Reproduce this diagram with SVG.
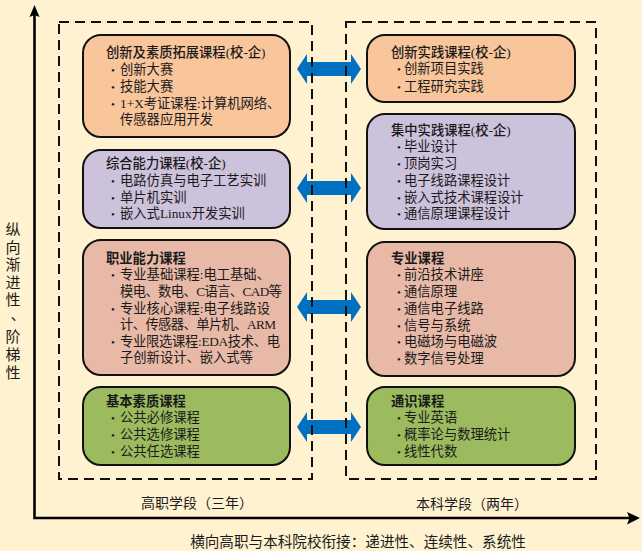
<svg xmlns="http://www.w3.org/2000/svg" width="642" height="551" viewBox="0 0 642 551">
<defs>
<style>
text{font-family:"Liberation Serif","Noto Sans CJK SC",sans-serif;fill:#1a1a1a}
.t{font-size:13.3px;font-weight:700}
.m{font-weight:500}
.b{font-size:13.3px}
.d{font-size:11px}
.lab{font-size:14px}
.vt{font-size:15px}
.tight{letter-spacing:-0.6px}
.node{stroke:#111;stroke-width:2}
.dash{fill:none;stroke:#111;stroke-width:2;stroke-dasharray:10 6}
.axis{fill:none;stroke:#000;stroke-width:2.6}
.arr{fill:#0070C0}
</style>
</defs>
<rect x="0" y="0" width="642" height="551" fill="#FFF2D1"/>

<g id="axes">
<path class="axis" d="M34.5,14 V518 H630"/>
<polygon points="34.5,5 39.5,17 34.5,15 29.5,17" fill="#000"/>
<polygon points="640,518 627,512 629.5,518 627,524.5" fill="#000"/>
</g>

<g id="connectors">
<polygon class="arr" points="297,69 307,54 307,62 351,62 351,54 361,69 351,84 351,76 307,76 307,84"/>
<polygon class="arr" points="297,188 307,173 307,181 351,181 351,173 361,188 351,203 351,195 307,195 307,203"/>
<polygon class="arr" points="297,307 307,292 307,300 351,300 351,292 361,307 351,322 351,314 307,314 307,322"/>
<polygon class="arr" points="297,427 307,412 307,420 351,420 351,412 361,427 351,442 351,434 307,434 307,442"/>
</g>

<g id="stage-boxes">
<rect class="dash" x="59" y="22" width="253" height="457"/>
<rect class="dash" x="346" y="22" width="250" height="457"/>
</g>

<g id="node-l1">
<rect class="node" x="83" y="35" width="207" height="102" rx="18" fill="#F9C59B"/>
<text class="t m" x="106" y="57">创新及素质拓展课程(校-企)</text>
<text class="b" x="111" y="74"><tspan class="d">•</tspan><tspan x="120">创新大赛</tspan></text>
<text class="b" x="111" y="91"><tspan class="d">•</tspan><tspan x="120">技能大赛</tspan></text>
<text class="b" x="111" y="108"><tspan class="d">•</tspan><tspan x="120">1+X考证课程:计算机网络、</tspan></text>
<text class="b" x="120" y="124">传感器应用开发</text>
</g>

<g id="node-l2">
<rect class="node" x="83" y="150" width="207" height="78" rx="18" fill="#CDC2DC"/>
<text class="t m" x="106" y="168">综合能力课程(校-企)</text>
<text class="b" x="111" y="185"><tspan class="d">•</tspan><tspan x="120">电路仿真与电子工艺实训</tspan></text>
<text class="b" x="111" y="202"><tspan class="d">•</tspan><tspan x="120">单片机实训</tspan></text>
<text class="b" x="111" y="218"><tspan class="d">•</tspan><tspan x="120">嵌入式Linux开发实训</tspan></text>
</g>

<g id="node-l3">
<rect class="node" x="83" y="240" width="207" height="135" rx="18" fill="#E8B9A7"/>
<text class="t" x="106" y="263">职业能力课程</text>
<text class="b" x="111" y="279"><tspan class="d">•</tspan><tspan x="120">专业基础课程:电工基础、</tspan></text>
<text class="b tight" x="120" y="296">模电、数电、C语言、CAD等</text>
<text class="b" x="111" y="313"><tspan class="d">•</tspan><tspan x="120">专业核心课程:电子线路设</tspan></text>
<text class="b tight" x="120" y="329">计、传感器、单片机、ARM</text>
<text class="b" x="111" y="346"><tspan class="d">•</tspan><tspan x="120" style="letter-spacing:-0.3px">专业限选课程:EDA技术、电</tspan></text>
<text class="b" x="120" y="362">子创新设计、嵌入式等</text>
</g>

<g id="node-l4">
<rect class="node" x="83" y="387" width="207" height="78" rx="18" fill="#9BBB5E"/>
<text class="t" x="106" y="406">基本素质课程</text>
<text class="b" x="111" y="422"><tspan class="d">•</tspan><tspan x="120">公共必修课程</tspan></text>
<text class="b" x="111" y="439"><tspan class="d">•</tspan><tspan x="120">公共选修课程</tspan></text>
<text class="b" x="111" y="456"><tspan class="d">•</tspan><tspan x="120">公共任选课程</tspan></text>
</g>

<g id="node-r1">
<rect class="node" x="367" y="35" width="208" height="67" rx="18" fill="#F9C59B"/>
<text class="t m" x="391" y="57">创新实践课程(校-企)</text>
<text class="b" x="397" y="73"><tspan class="d">•</tspan><tspan x="404">创新项目实践</tspan></text>
<text class="b" x="397" y="91"><tspan class="d">•</tspan><tspan x="404">工程研究实践</tspan></text>
</g>

<g id="node-r2">
<rect class="node" x="367" y="114" width="208" height="115" rx="18" fill="#CDC2DC"/>
<text class="t m" x="391" y="135">集中实践课程(校-企)</text>
<text class="b" x="397" y="151"><tspan class="d">•</tspan><tspan x="404">毕业设计</tspan></text>
<text class="b" x="397" y="168"><tspan class="d">•</tspan><tspan x="404">顶岗实习</tspan></text>
<text class="b" x="397" y="185"><tspan class="d">•</tspan><tspan x="404">电子线路课程设计</tspan></text>
<text class="b" x="397" y="202"><tspan class="d">•</tspan><tspan x="404">嵌入式技术课程设计</tspan></text>
<text class="b" x="397" y="218"><tspan class="d">•</tspan><tspan x="404">通信原理课程设计</tspan></text>
</g>

<g id="node-r3">
<rect class="node" x="367" y="242" width="208" height="134" rx="18" fill="#E8B9A7"/>
<text class="t" x="391" y="263">专业课程</text>
<text class="b" x="397" y="279"><tspan class="d">•</tspan><tspan x="404">前沿技术讲座</tspan></text>
<text class="b" x="397" y="296"><tspan class="d">•</tspan><tspan x="404">通信原理</tspan></text>
<text class="b" x="397" y="313"><tspan class="d">•</tspan><tspan x="404">通信电子线路</tspan></text>
<text class="b" x="397" y="330"><tspan class="d">•</tspan><tspan x="404">信号与系统</tspan></text>
<text class="b" x="397" y="346"><tspan class="d">•</tspan><tspan x="404">电磁场与电磁波</tspan></text>
<text class="b" x="397" y="363"><tspan class="d">•</tspan><tspan x="404">数字信号处理</tspan></text>
</g>

<g id="node-r4">
<rect class="node" x="367" y="387" width="208" height="78" rx="18" fill="#9BBB5E"/>
<text class="t" x="391" y="406">通识课程</text>
<text class="b" x="397" y="422"><tspan class="d">•</tspan><tspan x="404">专业英语</tspan></text>
<text class="b" x="397" y="439"><tspan class="d">•</tspan><tspan x="404">概率论与数理统计</tspan></text>
<text class="b" x="397" y="456"><tspan class="d">•</tspan><tspan x="404">线性代数</tspan></text>
</g>

<g id="labels">
<text class="lab" x="197" y="508" text-anchor="middle">高职学段（三年）</text>
<text class="lab" x="472" y="509" text-anchor="middle">本科学段（两年）</text>
<text class="lab" x="358" y="547" text-anchor="middle" style="font-size:14.6px">横向高职与本科院校衔接：递进性、连续性、系统性</text>
<g class="vt" text-anchor="middle">
<text class="vt" x="13" y="235">纵</text>
<text class="vt" x="13" y="253">向</text>
<text class="vt" x="13" y="270">渐</text>
<text class="vt" x="13" y="288">进</text>
<text class="vt" x="13" y="305">性</text>
<text class="vt" x="18" y="320">、</text>
<text class="vt" x="13" y="342">阶</text>
<text class="vt" x="13" y="360">梯</text>
<text class="vt" x="13" y="378">性</text>
</g>
</g>
</svg>
